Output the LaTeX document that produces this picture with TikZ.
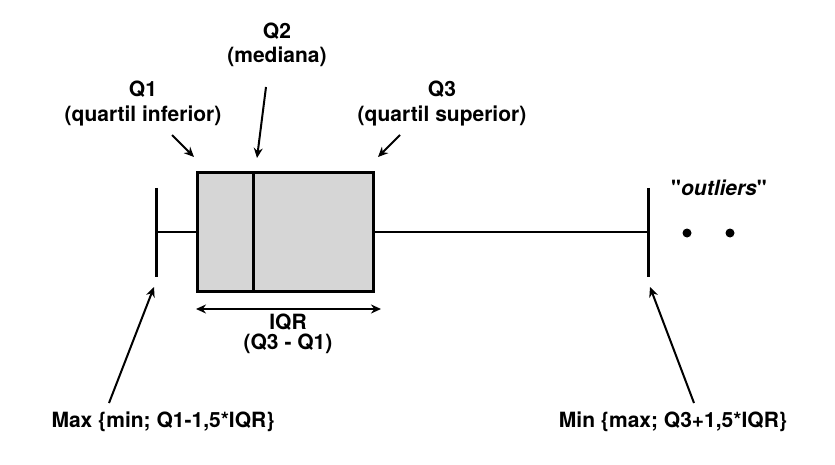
\documentclass[tikz,border=0pt]{standalone}
\usepackage{fontspec}
\setmainfont{TeX Gyre Heros}
\usetikzlibrary{arrows.meta}
\definecolor{boxfill}{RGB}{214,214,214}
\tikzset{
  lbl/.style={font=\bfseries\fontsize{21}{24.5}\selectfont, align=center, inner sep=0pt},
  ptr/.style={line width=2pt, -{Stealth[length=10pt,width=9pt]}},
  thick3/.style={line width=3pt},
}
\begin{document}
\begin{tikzpicture}[x=1pt,y=-1pt]
\useasboundingbox (0,0) rectangle (835,465);
% box
\node[draw, thick3, fill=boxfill, minimum width=176pt, minimum height=118pt, inner sep=0pt] (box) at (285,232) {};
\coordinate (medT) at (253,173);
\coordinate (medB) at (253,291);
\draw[thick3] (medT) -- (medB);
% whiskers
\coordinate (lcT) at (156,188);
\coordinate (lcB) at (156,277);
\coordinate (lc) at (156,232);
\coordinate (rcT) at (648,188);
\coordinate (rcB) at (648,277);
\coordinate (rc) at (648,232);
\draw[thick3] (lcT) -- (lcB);
\draw[thick3] (rcT) -- (rcB);
\draw[line width=2.3pt] (lc) -- (box.west);
\draw[line width=2.3pt] (box.east) -- (rc);
% outliers
\fill (687,233) circle (4.5pt) coordinate (o1);
\fill (730,233) circle (4.5pt) coordinate (o2);
\node[lbl, anchor=base] (out) at (719,196) {\textquotedbl\textit{outliers}\textquotedbl};
% IQR
\coordinate (iqrL) at (196,309);
\coordinate (iqrR) at (381,309);
\draw[line width=2pt, {Stealth[length=10pt,width=9pt]}-{Stealth[length=10pt,width=9pt]}] (iqrL) -- (iqrR);
\node[lbl, anchor=base, font=\bfseries\fontsize{21}{19.5}\selectfont] (iqr) at (288,349) {IQR\\(Q3 - Q1)};
% top labels
\node[lbl, anchor=base] (q2) at (277,63) {Q2\\(mediana)};
\node[lbl, anchor=base] (q1) at (143,121.5) {Q1\\(quartil inferior)};
\node[lbl, anchor=base] (q3) at (442,121.5) {Q3\\(quartil superior)};
\coordinate (q1s) at (172,135);
\coordinate (q1e) at (194,157);
\coordinate (q2s) at (266,87);
\coordinate (q2e) at (257,158);
\coordinate (q3s) at (400,135);
\coordinate (q3e) at (378,157);
\draw[ptr] (q1s) -- (q1e);
\draw[ptr] (q2s) -- (q2e);
\draw[ptr] (q3s) -- (q3e);
% bottom labels
\node[lbl, anchor=base] (mx) at (163,427) {Max \{min; Q1-1,5*IQR\}};
\node[lbl, anchor=base] (mn) at (673,427) {Min \{max; Q3+1,5*IQR\}};
\coordinate (mxs) at (109,403);
\coordinate (mxe) at (154,287);
\coordinate (mns) at (694,403);
\coordinate (mne) at (650,287);
\draw[ptr] (mxs) -- (mxe);
\draw[ptr] (mns) -- (mne);
\end{tikzpicture}
\end{document}
